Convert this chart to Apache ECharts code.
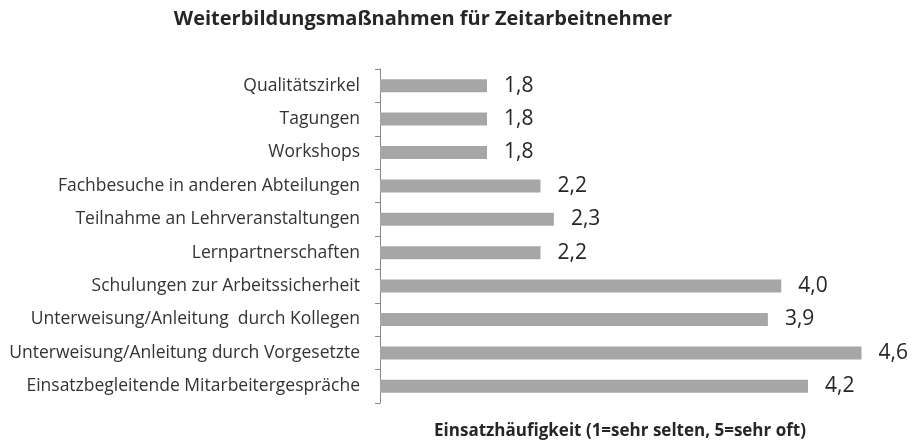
<!DOCTYPE html>
<html><head><meta charset="utf-8">
<script src="https://cdn.jsdelivr.net/npm/echarts@6/dist/echarts.min.js"></script>
<style>html,body{margin:0;padding:0;background:#fff}#c{width:916px;height:441px}</style>
</head><body><div id="c"></div>
<script>
var categories = ["Qualitätszirkel","Tagungen","Workshops","Fachbesuche in anderen Abteilungen","Teilnahme an Lehrveranstaltungen","Lernpartnerschaften","Schulungen zur Arbeitssicherheit","Unterweisung/Anleitung  durch Kollegen","Unterweisung/Anleitung durch Vorgesetzte","Einsatzbegleitende Mitarbeitergespräche"];
var values = [1.8,1.8,1.8,2.2,2.3,2.2,4.0,3.9,4.6,4.2];
var titleText = "Weiterbildungsmaßnahmen für Zeitarbeitnehmer";
var axisName = "Einsatzhäufigkeit (1=sehr selten, 5=sehr oft)";
var chart = echarts.init(document.getElementById('c'));
chart.setOption({
  animation:false,
  title:{text:titleText,left:418,top:4,textAlign:'center',textStyle:{fontFamily:'Open Sans',fontWeight:'bold',fontSize:20,color:'#262626'}},
  graphic:[{type:'text',style:{text:axisName,x:620,y:431,textAlign:'center',textVerticalAlign:'middle',font:'bold 17px "Open Sans"',fill:'#262626'}}],
  grid:{left:380,right:1,top:69,bottom:38,containLabel:false},
  xAxis:{type:'value',min:1,max:5,show:false},
  yAxis:{type:'category',data:categories,inverse:true,
    axisLine:{show:true,lineStyle:{color:'#868686',width:1}},
    axisTick:{show:true,length:5,inside:false,lineStyle:{color:'#868686'}},
    axisLabel:{fontFamily:'Open Sans',fontSize:17.5,color:'#333',margin:20}},
  series:[{type:'bar',data:values,barWidth:13,itemStyle:{color:'#a6a6a6'},
    label:{show:true,position:'right',distance:17,fontFamily:'Open Sans',fontSize:21,color:'#262626',
      formatter:function(p){return p.value.toFixed(1).replace('.',',');}}}]
});
</script></body></html>
